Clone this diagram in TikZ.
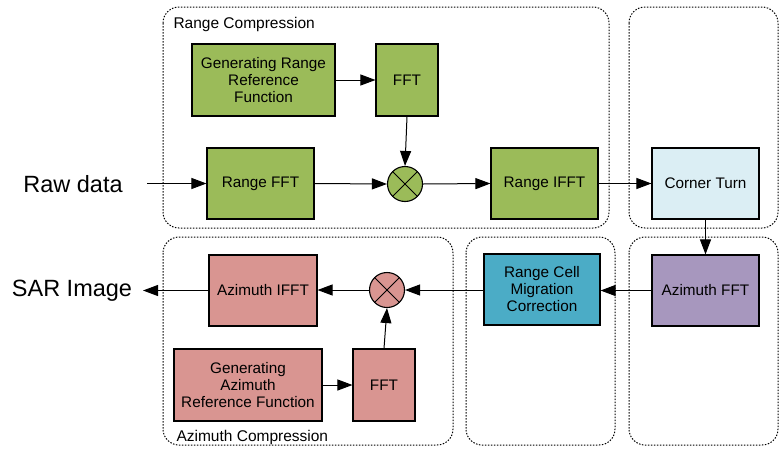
\documentclass[tikz,border=0pt]{standalone}
\usepackage{fontspec}
\setmainfont{Liberation Sans}
\usetikzlibrary{arrows.meta,positioning,calc}
\definecolor{rgreen}{HTML}{9BBB59}
\definecolor{apink}{HTML}{D99591}
\definecolor{rcblue}{HTML}{4BACC6}
\definecolor{ctblue}{HTML}{DBEEF4}
\definecolor{afpurple}{HTML}{A797BE}
\tikzset{
  blk/.style={draw=black, line width=1.1pt, inner sep=0pt, align=center,
    font=\fontsize{15.3}{17}\selectfont},
  group/.style={draw=black, line width=1pt, dash pattern=on 1.5pt off 1.5pt,
    rounded corners=16pt},
  mult/.style={circle, draw=black, line width=1.1pt, minimum size=35pt, inner sep=0pt,
    path picture={\draw[line width=1pt] (path picture bounding box.north west) -- (path picture bounding box.south east)
      (path picture bounding box.north east) -- (path picture bounding box.south west);}},
  flow/.style={line width=1pt, -{Triangle[length=15pt,width=11pt]}},
  grouplabel/.style={anchor=west, font=\fontsize{15.5}{17}\selectfont},
  iolabel/.style={font=\fontsize{23.5}{26}\selectfont}
}
\begin{document}
\begin{tikzpicture}[x=1pt,y=-1pt]
\useasboundingbox (0,0) rectangle (783,450);
% processing groups
\draw[group] (163,7) rectangle (609,228);
\draw[group] (629,7) rectangle (778,228);
\draw[group] (629,237) rectangle (778,445);
\draw[group] (466,237) rectangle (615,445);
\draw[group] (163,237) rectangle (453,445);
\node[grouplabel] (rclabel) at (170,24) {Range Compression};
\node[grouplabel] (aclabel) at (173,437) {Azimuth Compression};
% range compression blocks
\node[blk, fill=rgreen, minimum width=143pt, minimum height=72pt] (genr) at (263.5,80) {Generating Range\\Reference\\Function};
\node[blk, fill=rgreen, minimum width=62pt, minimum height=72pt] (fftr) at (407,80) {FFT};
\node[blk, fill=rgreen, minimum width=107pt, minimum height=71pt] (rfft) at (260.5,183.5) {Range FFT};
\node[mult, fill=rgreen] (mulr) at (405,184) {};
\node[blk, fill=rgreen, minimum width=107pt, minimum height=71pt] (rifft) at (544.5,183.5) {Range IFFT};
% corner turn and azimuth FFT
\node[blk, fill=ctblue, minimum width=107pt, minimum height=71pt] (ct) at (705.5,183.5) {Corner Turn};
\node[blk, fill=afpurple, minimum width=107pt, minimum height=71pt] (afft) at (705.5,290.5) {Azimuth FFT};
% range cell migration correction
\node[blk, fill=rcblue, minimum width=116pt, minimum height=71pt] (rcmc) at (542,289.5) {Range Cell\\Migration\\Correction};
% azimuth compression blocks
\node[blk, fill=apink, minimum width=108pt, minimum height=71pt] (aifft) at (263,290.5) {Azimuth IFFT};
\node[mult, fill=apink] (mula) at (387,290) {};
\node[blk, fill=apink, minimum width=148pt, minimum height=72pt] (gena) at (248,385) {Generating\\Azimuth\\Reference Function};
\node[blk, fill=apink, minimum width=62pt, minimum height=72pt] (ffta) at (384,385) {FFT};
% input / output
\node[iolabel] (raw) at (73,184) {Raw data};
\node[iolabel] (sar) at (72,291) {SAR Image};
\coordinate (rawend) at (147,183.5);
\coordinate (sarend) at (143,290.5);
% connections
\draw[flow] (rawend) -- (rfft.west);
\draw[flow] (genr) -- (fftr);
\draw[flow] (fftr.south) -- (mulr.north);
\draw[flow] (rfft.east) -- (mulr.west);
\draw[flow] (mulr.east) -- (rifft.west);
\draw[flow] (rifft.east) -- (ct.west);
\draw[flow] (ct.south) -- (afft.north);
\draw[flow] (afft.west) -- (rcmc.east |- afft.west);
\draw[flow] (rcmc.west |- mula.east) -- (mula.east);
\draw[flow] (mula.west) -- (aifft.east |- mula.west);
\draw[flow] (aifft.west) -- (sarend);
\draw[flow] (gena) -- (ffta);
\draw[flow] (ffta.north) -- (mula.south);
\end{tikzpicture}
\end{document}
